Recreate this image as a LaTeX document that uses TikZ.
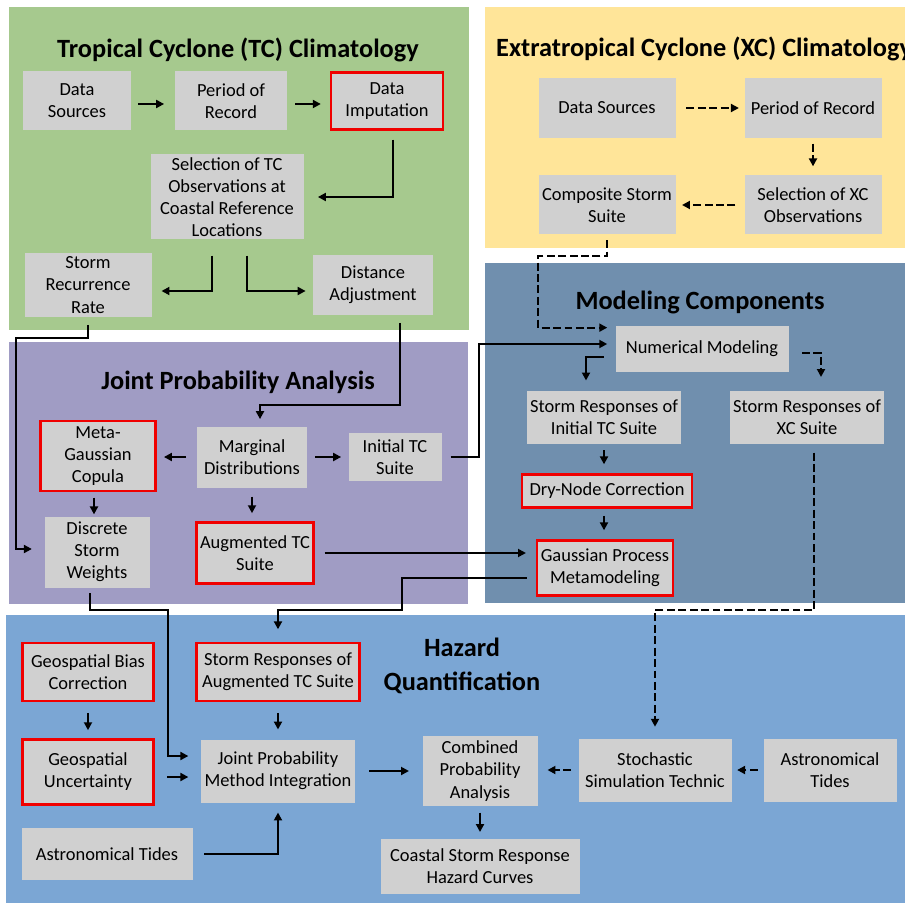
\documentclass[tikz,border=0pt]{standalone}
\usepackage{fontspec}
\setmainfont{Carlito}
\usetikzlibrary{calc,arrows.meta}

\definecolor{tcgreen}{RGB}{166,201,142}
\definecolor{xcyellow}{RGB}{255,229,153}
\definecolor{jpapurple}{RGB}{160,156,196}
\definecolor{modblue}{RGB}{112,143,174}
\definecolor{hazblue}{RGB}{123,166,212}
\definecolor{boxgray}{RGB}{208,208,208}
\definecolor{boxred}{RGB}{240,0,0}

\begin{document}
\begin{tikzpicture}[x=0.02cm,y=-0.02cm,
        box/.style 2 args={fill=boxgray, align=center, inner sep=0pt,
            minimum width=#1*0.02cm, minimum height=#2*0.02cm,
            font=\fontsize{10.5}{12.6}\selectfont},
        redbox/.style 2 args={box={#1}{#2}, draw=boxred, line width=1.6pt},
        heading/.style={align=center, font=\fontsize{15}{19}\selectfont\bfseries},
        flow/.style={-{Triangle[length=4.5pt,width=4.5pt]}, line width=1.2pt},
        xcflow/.style={flow, dash pattern=on 4.5pt off 2pt}]

            \useasboundingbox (0,0) rectangle (905,905);

            \fill[tcgreen] (9,7) rectangle (469,330);
            \fill[xcyellow] (485,7) rectangle (905,248);
            \fill[modblue] (485,263) rectangle (905,603);
            \fill[jpapurple] (9,342) rectangle (468,604);
            \fill[hazblue] (6,615) rectangle (905,903);

            \node (tcTitle) [heading] at (238,50) {Tropical Cyclone (TC) Climatology};
            \node (dsTC) [box={108}{59}] at (77,101) {Data\\Sources};
            \node (porTC) [box={112}{59}] at (231,101) {Period of\\Record};
            \node (impTC) [redbox={112}{57}] at (387,101) {Data\\Imputation};
            \node (selTC) [box={153}{85}] at (227,197) {Selection of TC\\Observations at\\Coastal Reference\\Locations};
            \node (srr) [box={127}{63}] at (88,285) {Storm\\Recurrence\\Rate};
            \node (dadj) [box={120}{59}] at (373,285) {Distance\\Adjustment};

            \node (xcTitle) [heading, anchor=west] at (490,49) {Extratropical Cyclone (XC) Climatology};
            \node (dsXC) [box={137}{60}] at (607,108) {Data Sources};
            \node (porXC) [box={137}{60}] at (813,108) {Period of Record};
            \node (selXC) [box={137}{59}] at (813,205) {Selection of XC\\Observations};
            \node (csXC) [box={137}{59}] at (607,205) {Composite Storm\\Suite};

            \node (mcTitle) [heading] at (700,302) {Modeling Components};
            \node (numm) [box={173}{46}] at (702,349) {Numerical Modeling};
            \node (srIni) [box={154}{53}] at (604,417) {Storm Responses of\\Initial TC Suite};
            \node (srXC) [box={154}{53}] at (807,417) {Storm Responses of\\XC Suite};
            \node (dryn) [redbox={170}{33}] at (607,491) {Dry-Node Correction};
            \node (gpm) [redbox={136}{55}] at (605,568) {Gaussian Process\\Metamodeling};

            \node (jpaTitle) [heading] at (238,382) {Joint Probability Analysis};
            \node (mgc) [redbox={115}{70}] at (98,456) {Meta-\\Gaussian\\Copula};
            \node (marg) [box={110}{61}] at (252,457) {Marginal\\Distributions};
            \node (iniTC) [box={93}{48}] at (395,457) {Initial TC\\Suite};
            \node (dsw) [box={105}{71}] at (97,552) {Discrete\\Storm\\Weights};
            \node (augTC) [redbox={117}{61}] at (255,553) {Augmented TC\\Suite};

            \node (hqTitle) [heading] at (462,666) {Hazard\\Quantification};
            \node (gbc) [redbox={131}{58}] at (88,672) {Geospatial Bias\\Correction};
            \node (gunc) [redbox={131}{65}] at (88,772) {Geospatial\\Uncertainty};
            \node (srAug) [redbox={163}{58}] at (278,672) {Storm Responses of\\Augmented TC Suite};
            \node (jpm) [box={154}{63}] at (278,771) {Joint Probability\\Method Integration};
            \node (atL) [box={171}{52}] at (107,854) {Astronomical Tides};
            \node (cpa) [box={115}{70}] at (480,771) {Combined\\Probability\\Analysis};
            \node (hcur) [box={199}{55}] at (480,866) {Coastal Storm Response\\Hazard Curves};
            \node (sst) [box={153}{63}] at (655,770) {Stochastic\\Simulation Technic};
            \node (atR) [box={133}{63}] at (830,770) {Astronomical\\Tides};

            \draw[flow, shorten <=4pt, shorten >=6pt] ($(dsTC.east)+(0,3)$) -- ($(porTC.west)+(0,3)$);
            \draw[flow, shorten <=4.5pt, shorten >=5pt] ($(porTC.east)+(0,3)$) -- ($(porTC.east -| impTC.west)+(0,3)$);
            \draw[flow, shorten <=5pt, shorten >=8pt] ($(impTC.south)+(6,0)$) |- (selTC.east);
            \draw[flow, shorten <=9pt, shorten >=5.5pt] ($(selTC.south)+(-15,0)$) |- ($(srr.east)+(0,6)$);
            \draw[flow, shorten <=9pt, shorten >=4pt] ($(selTC.south)+(20,0)$) |- ($(dadj.west)+(0,6)$);
            \draw[flow, shorten <=4.5pt, shorten >=4pt] ($(dadj.south)+(27,0)$) -- ++(0,90) -| ($(marg.north)+(8,0)$);
            \draw[flow, shorten <=4.5pt, shorten >=7pt] (srr.south) -- ++(0,21) -| ($(dsw.west)+(-28,-3)$) -- ($(dsw.west)+(0,-3)$);

            \draw[xcflow, shorten <=6pt, shorten >=3pt] (dsXC.east) -- (porXC.west);
            \draw[xcflow, shorten <=3pt, shorten >=5pt] (porXC.south) -- (selXC.north);
            \draw[xcflow, shorten <=5pt, shorten >=3.5pt] (selXC.west) -- (csXC.east);
            \draw[xcflow, shorten <=3pt, shorten >=4.5pt] (csXC.south) -- ++(0,21.5) -| ($(numm.north west)+(-77,2)$) -- ($(numm.north west)+(0,2)$);

            \draw[flow, shorten <=6pt, shorten >=4pt] (marg.west) -- (mgc.east |- marg.west);
            \draw[flow, shorten <=4.5pt, shorten >=4pt] (marg.east) -- (iniTC.west);
            \draw[flow, shorten <=5pt, shorten >=4.5pt] (marg.south) -- (marg.south |- augTC.north);
            \draw[flow, shorten <=3pt, shorten >=1pt] ($(mgc.south)+(-4,0)$) -- ($(mgc.south |- dsw.north)+(-4,0)$);
            \draw[flow, shorten <=5pt, shorten >=4.5pt] (iniTC.east) -- ++(37.5,0) |- ($(numm.west)+(0,-5)$);
            \draw[flow, shorten <=5.5pt, shorten >=5.5pt] (augTC.east) -- (augTC.east -| gpm.west);

            \draw[flow, shorten <=6.5pt, shorten >=5.5pt] ($(numm.west)+(0,8)$) -| ($(srIni.north)+(-18,0)$);
            \draw[xcflow, shorten <=7.5pt, shorten >=7.5pt] ($(numm.east)+(0,4)$) -| ($(srXC.north)+(14,0)$);
            \draw[flow, shorten <=3.5pt, shorten >=5pt] (srIni.south) -- (srIni.south |- dryn.north);
            \draw[flow, shorten <=4pt, shorten >=5pt] ($(dryn.south)+(-3,0)$) -- ($(dryn.south |- gpm.north)+(-3,0)$);
            \draw[flow, shorten <=5pt, shorten >=7pt] ($(gpm.west)+(0,10)$) -- ++(-133.5,0) -- ++(0,32) -| (srAug.north);
            \draw[xcflow, shorten <=5pt, shorten >=6.5pt] ($(srXC.south)+(7,0)$) -- ++(0,166.5) -| (sst.north);

            \draw[flow, shorten <=3pt, shorten >=7pt] ($(dsw.south)+(-7,0)$) -- ++(0,22.5) -| ($(jpm.west)+(-33,-15)$) -- ($(jpm.west)+(0,-15)$);
            \draw[flow, shorten <=6pt, shorten >=4.5pt] (gbc.south) -- (gunc.north);
            \draw[flow, shorten <=7pt, shorten >=7pt] ($(gunc.east)+(0,5)$) -- ($(gunc.east -| jpm.west)+(0,5)$);
            \draw[flow, shorten <=6pt, shorten >=5.5pt] (srAug.south) -- (jpm.north);
            \draw[flow, shorten <=6.5pt, shorten >=5.5pt] (atL.east) -| (jpm.south);
            \draw[flow, shorten <=8pt, shorten >=7.5pt] (jpm.east) -- (jpm.east -| cpa.west);
            \draw[flow, shorten <=3.5pt, shorten >=3.5pt] (cpa.south) -- (hcur.north);
            \draw[xcflow, shorten <=4pt, shorten >=5.5pt] (sst.west) -- (sst.west -| cpa.east);
            \draw[xcflow, shorten <=3pt, shorten >=3pt] (atR.west) -- (sst.east);

        \end{tikzpicture}
\end{document}
